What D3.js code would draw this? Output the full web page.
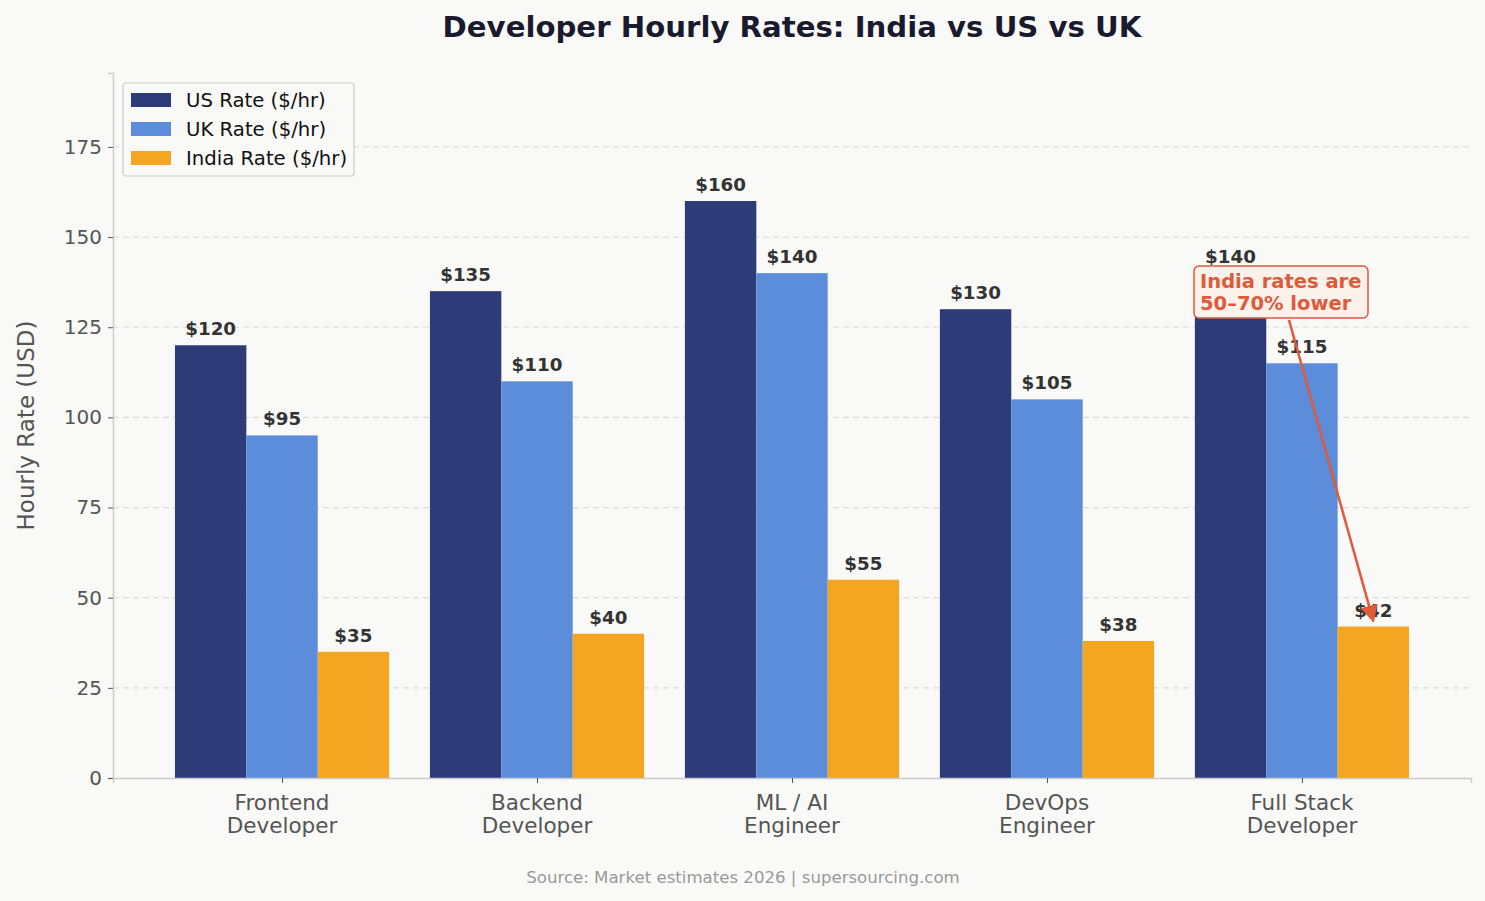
<!DOCTYPE html>
<html>
<head>
<meta charset="utf-8">
<script src="https://cdn.jsdelivr.net/npm/d3@7"></script>
<style>
  body { margin: 0; background: #f9f9f7; }
  svg { font-family: "DejaVu Sans", sans-serif; }
</style>
</head>
<body>
<div class="graph"></div>
<script>
let roles = ["Frontend\nDeveloper", "Backend\nDeveloper", "ML / AI\nEngineer", "DevOps\nEngineer", "Full Stack\nDeveloper"];
let usRates = [120, 135, 160, 130, 140];
let ukRates = [95, 110, 140, 105, 115];
let indiaRates = [35, 40, 55, 38, 42];
let seriesNames = ["US Rate ($/hr)", "UK Rate ($/hr)", "India Rate ($/hr)"];
let seriesColors = ["#2d3c78", "#5b8dda", "#f4a522"];
let yTicks = [0, 25, 50, 75, 100, 125, 150, 175];

let w = 1485;
let h = 901;
let plotL = 113, plotR = 1471, plotT = 73, plotB = 778;
let barW = 0.28;

let svg = d3
  .select(".graph")
  .append("svg")
  .attr("width", w)
  .attr("height", h);

svg.append("rect").attr("width", w).attr("height", h).attr("fill", "#f9f9f7");

let xScale = d3.scaleLinear().domain([-0.663, 4.663]).range([plotL, plotR]);
let yScale = d3.scaleLinear().domain([0, 195.5]).range([plotB, plotT]);

// grid
svg
  .append("g")
  .selectAll("line")
  .data(yTicks.slice(1))
  .enter()
  .append("line")
  .attr("x1", plotL)
  .attr("x2", plotR)
  .attr("y1", (d) => yScale(d))
  .attr("y2", (d) => yScale(d))
  .attr("stroke", "#dcdcdc")
  .attr("stroke-width", 1.2)
  .attr("stroke-dasharray", "6,4");

// bars
let series = [usRates, ukRates, indiaRates];
series.forEach(function (vals, s) {
  let off = (s - 1) * barW;
  svg
    .append("g")
    .selectAll("rect")
    .data(vals)
    .enter()
    .append("rect")
    .attr("x", (d, i) => xScale(i + off - barW / 2))
    .attr("width", xScale(barW) - xScale(0))
    .attr("y", (d) => yScale(d))
    .attr("height", (d) => yScale(0) - yScale(d))
    .attr("fill", seriesColors[s]);

  svg
    .append("g")
    .selectAll("text")
    .data(vals)
    .enter()
    .append("text")
    .attr("x", (d, i) => xScale(i + off))
    .attr("y", (d) => yScale(d) - 10)
    .attr("text-anchor", "middle")
    .attr("font-size", 18.3)
    .attr("font-weight", "bold")
    .attr("fill", "#333333")
    .text((d) => "$" + d);
});

// axes
let yAxis = d3.axisLeft(yScale).tickValues(yTicks).tickSize(5).tickPadding(6);
let gy = svg.append("g").attr("transform", "translate(" + plotL + ",0)").call(yAxis);
gy.select(".domain").attr("stroke", "#cccccc").attr("stroke-width", 1.5);
gy.selectAll(".tick line").attr("stroke", "#555555");
gy.selectAll(".tick text").attr("font-size", 20).attr("fill", "#555555").attr("font-family", "DejaVu Sans");

let xAxis = d3.axisBottom(xScale).tickValues(d3.range(roles.length)).tickSize(5).tickFormat("");
let gx = svg.append("g").attr("transform", "translate(0," + plotB + ")").call(xAxis);
gx.select(".domain").attr("stroke", "#cccccc").attr("stroke-width", 1.5);
gx.selectAll(".tick line").attr("stroke", "#555555");

svg
  .append("g")
  .selectAll("text")
  .data(roles)
  .enter()
  .append("text")
  .attr("x", (d, i) => xScale(i))
  .attr("y", plotB + 32)
  .attr("text-anchor", "middle")
  .attr("font-size", 21.5)
  .attr("fill", "#555555")
  .each(function (d) {
    let t = d3.select(this);
    d.split("\n").forEach(function (line, k) {
      t.append("tspan").attr("x", t.attr("x")).attr("dy", k === 0 ? 0 : 23).text(line);
    });
  });

// y label
svg
  .append("text")
  .attr("transform", "translate(34," + (plotT + plotB) / 2 + ") rotate(-90)")
  .attr("text-anchor", "middle")
  .attr("font-size", 23)
  .attr("fill", "#555555")
  .text("Hourly Rate (USD)");

// title
svg
  .append("text")
  .attr("x", (plotL + plotR) / 2)
  .attr("y", 37)
  .attr("text-anchor", "middle")
  .attr("font-size", 29.2)
  .attr("font-weight", "bold")
  .attr("fill", "#1a1a2e")
  .text("Developer Hourly Rates: India vs US vs UK");

// legend
let lg = svg.append("g").attr("transform", "translate(123,83)");
lg.append("rect")
  .attr("width", 231)
  .attr("height", 93)
  .attr("rx", 3)
  .attr("fill", "#f9f9f7")
  .attr("stroke", "#cccccc")
  .attr("stroke-width", 1.2);
seriesNames.forEach(function (name, i) {
  lg.append("rect")
    .attr("x", 8)
    .attr("y", 10 + i * 29)
    .attr("width", 40)
    .attr("height", 14)
    .attr("fill", seriesColors[i]);
  lg.append("text")
    .attr("x", 63)
    .attr("y", 24 + i * 29)
    .attr("font-size", 19.7)
    .attr("fill", "#111111")
    .text(name);
});

// annotation
let arrowColor = "#e05a3a";
svg
  .append("defs")
  .append("marker")
  .attr("id", "arrow")
  .attr("viewBox", "0 0 10 10")
  .attr("refX", 9)
  .attr("refY", 5)
  .attr("markerWidth", 7)
  .attr("markerHeight", 7)
  .attr("orient", "auto")
  .append("path")
  .attr("d", "M0,0 L10,5 L0,10 Z")
  .attr("fill", arrowColor);

svg
  .append("line")
  .attr("x1", 1289)
  .attr("y1", 320)
  .attr("x2", xScale(4.28))
  .attr("y2", yScale(43.5))
  .attr("stroke", arrowColor)
  .attr("stroke-width", 2.5)
  .attr("marker-end", "url(#arrow)");

svg
  .append("rect")
  .attr("x", 1194)
  .attr("y", 266)
  .attr("width", 174)
  .attr("height", 52)
  .attr("rx", 5)
  .attr("fill", "#fdf1ec")
  .attr("stroke", arrowColor)
  .attr("stroke-width", 1.5);

svg
  .append("text")
  .attr("x", 1200)
  .attr("y", 288)
  .attr("font-size", 19.5)
  .attr("font-weight", "bold")
  .attr("fill", arrowColor)
  .selectAll("tspan")
  .data(["India rates are", "50–70% lower"])
  .enter()
  .append("tspan")
  .attr("x", 1200)
  .attr("dy", (d, i) => (i === 0 ? 0 : 22))
  .text((d) => d);

// source
svg
  .append("text")
  .attr("x", 743)
  .attr("y", 883)
  .attr("text-anchor", "middle")
  .attr("font-size", 16.6)
  .attr("fill", "#999999")
  .text("Source: Market estimates 2026 | supersourcing.com");
</script>
</body>
</html>
